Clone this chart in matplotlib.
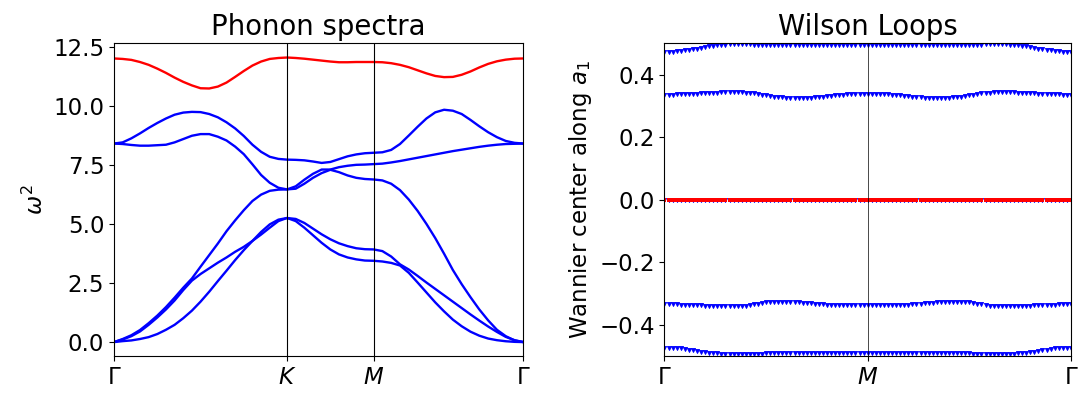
import numpy as np
import matplotlib
matplotlib.use("Agg")
import matplotlib.pyplot as plt

plt.rcParams["font.size"] = 16.5

# ---------------- phonon path: Gamma -> K -> M -> Gamma (lengths in |GK| units)
path_labels = [r"$\Gamma$", r"$K$", r"$M$", r"$\Gamma$"]
segment_lengths = [1.0, 0.5, np.sqrt(3) / 2]
segment_points = [20, 10, 17]

# squared frequencies, bands sorted from lowest to highest
band1 = [0.00, 0.04, 0.07, 0.13, 0.21, 0.34, 0.52, 0.73, 1.01, 1.33, 1.71, 2.13, 2.58, 3.02, 3.47, 3.89, 4.28, 4.55, 4.84, 5.12, 5.25,
         5.12, 4.84, 4.52, 4.20, 3.92, 3.71, 3.58, 3.50, 3.45, 3.44,
         3.41, 3.35, 3.24, 2.93, 2.52, 2.10, 1.68, 1.30, 0.95, 0.67, 0.44, 0.27, 0.15, 0.08, 0.035, 0.01, 0.00]
band2 = [0.00, 0.11, 0.25, 0.45, 0.73, 1.04, 1.38, 1.76, 2.20, 2.60, 2.88, 3.12, 3.36, 3.58, 3.82, 4.03, 4.28, 4.66, 4.98, 5.18, 5.25,
         5.21, 5.04, 4.80, 4.56, 4.35, 4.18, 4.06, 3.97, 3.93, 3.92,
         3.85, 3.62, 3.29, 3.07, 2.80, 2.52, 2.25, 1.98, 1.71, 1.44, 1.17, 0.91, 0.66, 0.43, 0.22, 0.08, 0.00]
band3 = [0.00, 0.13, 0.29, 0.51, 0.80, 1.12, 1.48, 1.88, 2.30, 2.69, 3.19, 3.68, 4.17, 4.69, 5.15, 5.58, 5.97, 6.24, 6.40, 6.45, 6.46,
         6.49, 6.70, 6.95, 7.15, 7.29, 7.19, 7.05, 6.95, 6.90, 6.88,
         6.84, 6.70, 6.43, 6.03, 5.55, 5.00, 4.40, 3.74, 3.05, 2.45, 1.90, 1.38, 0.92, 0.52, 0.25, 0.07, 0.00]
band4 = [8.40, 8.38, 8.34, 8.31, 8.31, 8.33, 8.35, 8.45, 8.59, 8.73, 8.80, 8.80, 8.69, 8.53, 8.27, 7.95, 7.52, 7.07, 6.74, 6.53, 6.46,
         6.59, 6.87, 7.12, 7.30, 7.30, 7.40, 7.46, 7.50, 7.51, 7.53,
         7.55, 7.60, 7.66, 7.73, 7.80, 7.87, 7.94, 8.01, 8.08, 8.14, 8.20, 8.26, 8.31, 8.35, 8.38, 8.39, 8.40]
band5 = [8.40, 8.45, 8.62, 8.83, 9.06, 9.27, 9.46, 9.62, 9.71, 9.74, 9.73, 9.65, 9.51, 9.30, 9.04, 8.72, 8.35, 8.05, 7.84, 7.75, 7.72,
         7.71, 7.69, 7.64, 7.58, 7.62, 7.74, 7.86, 7.94, 7.99, 8.01,
         8.03, 8.13, 8.38, 8.74, 9.11, 9.46, 9.72, 9.83, 9.79, 9.65, 9.40, 9.13, 8.88, 8.67, 8.51, 8.43, 8.40]
band6 = [12.00, 11.98, 11.94, 11.85, 11.73, 11.57, 11.39, 11.19, 11.01, 10.86, 10.74, 10.73, 10.81, 10.98, 11.22, 11.47, 11.70, 11.87, 11.98, 12.02, 12.04,
         12.02, 11.99, 11.95, 11.91, 11.87, 11.84, 11.84, 11.85, 11.85, 11.85,
         11.84, 11.80, 11.73, 11.63, 11.50, 11.37, 11.26, 11.21, 11.22, 11.31, 11.45, 11.62, 11.77, 11.88, 11.95, 11.99, 12.00]

# ---------------- Wilson loop: Gamma -> M -> Gamma
wilson_labels = [r"$\Gamma$", r"$M$", r"$\Gamma$"]
wilson_top = [0.472, 0.472, 0.473, 0.474, 0.475, 0.477, 0.479, 0.481, 0.483, 0.486, 0.488, 0.490, 0.492, 0.494, 0.495, 0.496,
              0.497, 0.497, 0.497, 0.497, 0.497, 0.497, 0.496, 0.496, 0.495, 0.495, 0.495, 0.495, 0.495, 0.496, 0.496, 0.496, 0.496, 0.496, 0.496, 0.495,
              0.495, 0.495, 0.495, 0.495, 0.495, 0.495, 0.495, 0.495, 0.495, 0.495, 0.495, 0.495, 0.495, 0.495, 0.495,
              0.495, 0.495, 0.495, 0.495, 0.495, 0.495, 0.495, 0.495, 0.495, 0.495, 0.495, 0.495, 0.495, 0.495, 0.495,
              0.496, 0.496, 0.496, 0.496, 0.496, 0.496, 0.495, 0.495, 0.495, 0.495, 0.495, 0.496, 0.496, 0.497, 0.497, 0.497, 0.497, 0.497, 0.497,
              0.496, 0.495, 0.494, 0.492, 0.490, 0.488, 0.486, 0.483, 0.481, 0.479, 0.477, 0.475, 0.474, 0.473, 0.472, 0.472]
wilson_upper = [0.336, 0.336, 0.336, 0.337, 0.337, 0.338, 0.338, 0.339, 0.339, 0.340, 0.341,
                0.341, 0.342, 0.342, 0.343, 0.343, 0.343, 0.343, 0.343, 0.343, 0.342,
                0.341, 0.340, 0.338, 0.336, 0.334, 0.332, 0.330, 0.328, 0.327, 0.326,
                0.325, 0.324, 0.324, 0.324, 0.325, 0.326, 0.327, 0.328, 0.330, 0.331,
                0.333, 0.334, 0.335, 0.336, 0.337, 0.338, 0.338, 0.338, 0.339, 0.339,
                0.339, 0.338, 0.338, 0.338, 0.337, 0.336, 0.335, 0.334, 0.333, 0.331,
                0.330, 0.328, 0.327, 0.326, 0.325, 0.324, 0.324, 0.324, 0.325, 0.326,
                0.327, 0.328, 0.330, 0.332, 0.334, 0.336, 0.338, 0.340, 0.341, 0.342,
                0.343, 0.343, 0.343, 0.343, 0.343, 0.343, 0.342, 0.342, 0.341, 0.341,
                0.340, 0.339, 0.339, 0.338, 0.338, 0.337, 0.337, 0.336, 0.336, 0.336]
wilson_lower = [-0.333, -0.333, -0.334, -0.334, -0.335, -0.335, -0.336, -0.336, -0.337, -0.337, -0.338,
                -0.338, -0.339, -0.339, -0.340, -0.340, -0.340, -0.340, -0.339, -0.339, -0.338,
                -0.336, -0.334, -0.332, -0.330, -0.328, -0.327, -0.326, -0.325, -0.325, -0.325,
                -0.326, -0.327, -0.328, -0.329, -0.330, -0.331, -0.332, -0.333, -0.334, -0.335,
                -0.335, -0.336, -0.336, -0.336, -0.336, -0.336, -0.336, -0.336, -0.336, -0.336,
                -0.336, -0.336, -0.336, -0.336, -0.336, -0.336, -0.336, -0.336, -0.335, -0.335,
                -0.334, -0.333, -0.332, -0.331, -0.330, -0.329, -0.328, -0.327, -0.326, -0.325,
                -0.325, -0.325, -0.326, -0.327, -0.328, -0.330, -0.332, -0.334, -0.336, -0.338,
                -0.339, -0.339, -0.340, -0.340, -0.340, -0.340, -0.339, -0.339, -0.338, -0.338,
                -0.337, -0.337, -0.336, -0.336, -0.335, -0.335, -0.334, -0.334, -0.333, -0.333]
wilson_bottom = [-0.472, -0.472, -0.473, -0.474, -0.475, -0.477, -0.479, -0.481, -0.483, -0.485, -0.487, -0.489, -0.490, -0.491, -0.492, -0.493, -0.494, -0.494,
                 -0.494, -0.494, -0.494, -0.493, -0.493, -0.492, -0.492, -0.491, -0.491, -0.490, -0.490, -0.490, -0.489, -0.489, -0.489, -0.489, -0.489,
                 -0.489, -0.489, -0.489, -0.489, -0.489, -0.489, -0.489, -0.489, -0.489, -0.489, -0.489, -0.489, -0.489, -0.489, -0.489, -0.489,
                 -0.489, -0.489, -0.489, -0.489, -0.489, -0.489, -0.489, -0.489, -0.489, -0.489, -0.489, -0.489, -0.489, -0.489, -0.489,
                 -0.489, -0.489, -0.489, -0.489, -0.489, -0.490, -0.490, -0.490, -0.491, -0.491, -0.492, -0.492, -0.493, -0.493, -0.494, -0.494, -0.494,
                 -0.494, -0.494, -0.493, -0.492, -0.491, -0.490, -0.489, -0.487, -0.485, -0.483, -0.481, -0.479, -0.477, -0.475, -0.474, -0.473, -0.472, -0.472]
wilson_zero = [0.0] * len(wilson_top)

# ---------------- k-path coordinates
nodes = np.concatenate([[0.0], np.cumsum(segment_lengths)])
kpath = [np.array([0.0])]
for a, b, n in zip(nodes[:-1], nodes[1:], segment_points):
    kpath.append(np.linspace(a, b, n + 1)[1:])
kpath = np.concatenate(kpath)

kw = np.linspace(0.0, 1.0, len(wilson_top))

fig = plt.figure(figsize=(10.78, 3.99), dpi=100)
ax1 = fig.add_axes([0.1058, 0.107, 0.3797, 0.7845])
ax2 = fig.add_axes([0.6164, 0.107, 0.3770, 0.7845])

# phonon bands
for band in (band1, band2, band3, band4, band5):
    ax1.plot(kpath, band, color="blue", lw=1.7)
ax1.plot(kpath, band6, color="red", lw=1.7)
for x in nodes[1:-1]:
    ax1.axvline(x, color="black", lw=0.8)
ax1.set_xlim(nodes[0], nodes[-1])
ax1.set_xticks(nodes)
ax1.set_xticklabels(path_labels)
ax1.set_ylabel(r"$\omega^2$")
ax1.set_title("Phonon spectra")

# Wilson loop spectra
for band in (wilson_top, wilson_upper, wilson_zero, wilson_lower, wilson_bottom):
    ax2.plot(kw, band, linestyle="none", marker="v", ms=3.0, mew=0.6, color="blue")
ax2.plot(kw, wilson_zero, linestyle="none", marker="s", ms=2.5, mew=0, color="red")
ax2.axvline(0.5, color="black", lw=0.5)
ax2.set_xlim(0, 1)
ax2.set_ylim(-0.5, 0.5)
ax2.set_xticks([0, 0.5, 1])
ax2.set_xticklabels(wilson_labels)
ax2.set_ylabel(r"Wannier center along $a_1$")
ax2.set_title("Wilson Loops")

fig.savefig("out.png", dpi=100)
